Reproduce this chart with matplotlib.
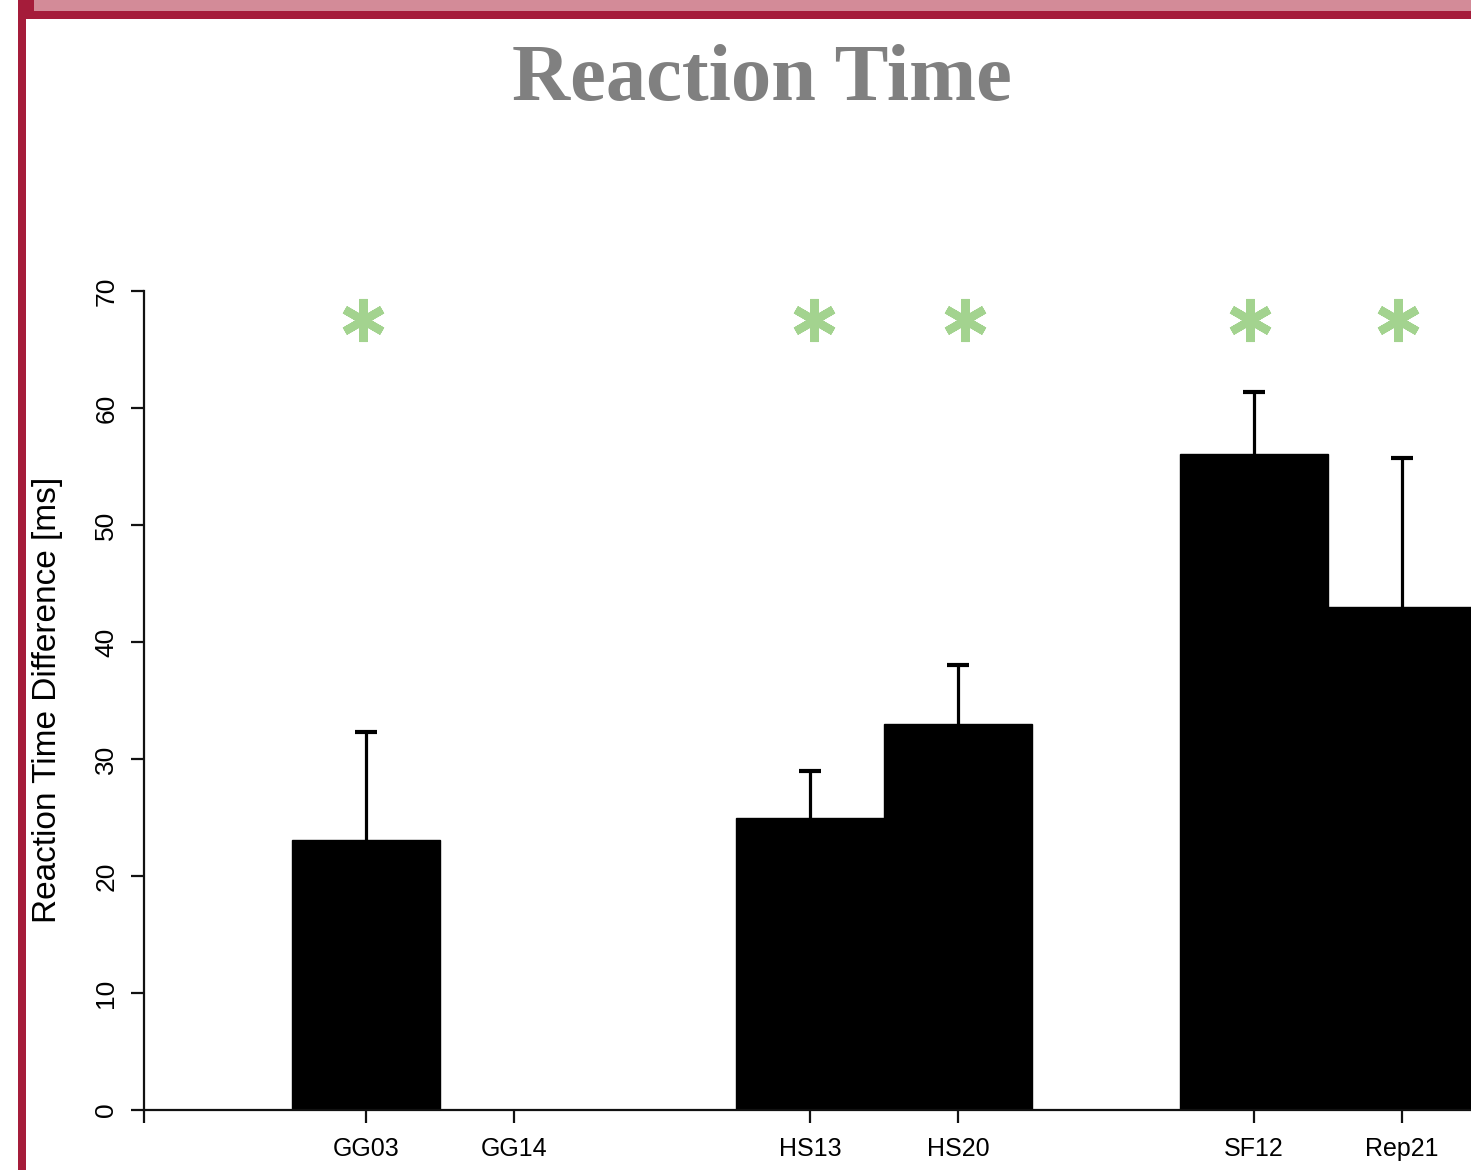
import matplotlib
matplotlib.use('Agg')
import matplotlib.pyplot as plt
from matplotlib.patches import Rectangle

# Dados do gráfico
grupos = ['GG03', 'GG14', 'HS13', 'HS20', 'SF12', 'Rep21']
posicoes = [0, 1, 3, 4, 6, 7]
medias = [23.1, 0.0, 25.0, 33.0, 56.1, 43.0]
erros = [9.2, 0.0, 4.0, 5.0, 5.3, 12.7]
# asteriscos colocados à mão no slide (posição x aproximada, nível y)
asteriscos_x = [-0.02, 3.03, 4.05, 5.97, 6.97]
asteriscos_y = [67.5, 67.5, 67.5, 67.5, 67.5]
yticks = [0, 10, 20, 30, 40, 50, 60, 70]

plt.rcParams['font.family'] = ['Liberation Sans', 'DejaVu Sans']

W, H = 1471, 1170
fig = plt.figure(figsize=(W / 100, H / 100), dpi=100)
fig.patch.set_facecolor('white')

# --- moldura do slide ---
vermelho = '#a51c3a'
rosa = '#d38b98'
fig.add_artist(Rectangle((34 / W, 1 - 11 / H), 1, 11 / H, transform=fig.transFigure,
                         facecolor=rosa, edgecolor='none'))
fig.add_artist(Rectangle((18 / W, 1 - 19 / H), 1, 8 / H, transform=fig.transFigure,
                         facecolor=vermelho, edgecolor='none'))
fig.add_artist(Rectangle((18 / W, 1 - 19 / H), 16 / W, 19 / H, transform=fig.transFigure,
                         facecolor=vermelho, edgecolor='none'))
fig.add_artist(Rectangle((18 / W, 0), 8 / W, 1, transform=fig.transFigure,
                         facecolor=vermelho, edgecolor='none'))

# título do slide
fig.text(762 / W, 1 - 100 / H, 'Reaction Time', ha='center', va='baseline',
         fontsize=58, fontweight='bold', color='#808080',
         family=['Liberation Serif', 'DejaVu Serif'])

# --- eixo principal ---
x_min, x_max = -1.5, -1.5 + (W - 144) / 148
y_max = 72
ax = fig.add_axes([144 / W, (H - 1110) / H, (W - 144) / W, y_max * 11.7 / H])
ax.set_xlim(x_min, x_max)
ax.set_ylim(0, y_max)

ax.bar(posicoes, medias, width=1.0, color='black', edgecolor='black', linewidth=1, zorder=2)

# barras de erro só para cima
cap = 11 / 148
for x, m, e in zip(posicoes, medias, erros):
    if e > 0:
        ax.vlines(x, m, m + e, color='black', linewidth=2.3, zorder=3)
        ax.hlines(m + e, x - cap, x + cap, color='black', linewidth=3, zorder=3)

# asteriscos de significância
ax.plot(asteriscos_x, asteriscos_y, linestyle='none', marker=(6, 2, 0), markersize=31,
        markeredgewidth=6, color='#a3d38f', zorder=4)

# eixos no estilo R
for lado in ['top', 'right']:
    ax.spines[lado].set_visible(False)
ax.spines['left'].set_bounds(0, 70)
for lado in ['left', 'bottom']:
    ax.spines[lado].set_linewidth(1.6)
    ax.spines[lado].set_color('#111111')

ax.set_yticks(yticks)
ax.set_yticklabels([str(v) for v in yticks], rotation=90, va='center', fontsize=19)
ax.set_xticks([x_min] + posicoes)
ax.set_xticklabels([''] + grupos, fontsize=18)
ax.tick_params(axis='both', length=9.5, width=1.6, color='#111111', labelcolor='black')
ax.tick_params(axis='y', pad=9)
ax.tick_params(axis='x', pad=10)

ax.text((48 - 144) / (W - 144), (1110 - 700) / (y_max * 11.7),
        'Reaction Time Difference [ms]', transform=ax.transAxes, rotation=90,
        ha='center', va='center', fontsize=24, color='black')

fig.savefig('out.png', dpi=100)
